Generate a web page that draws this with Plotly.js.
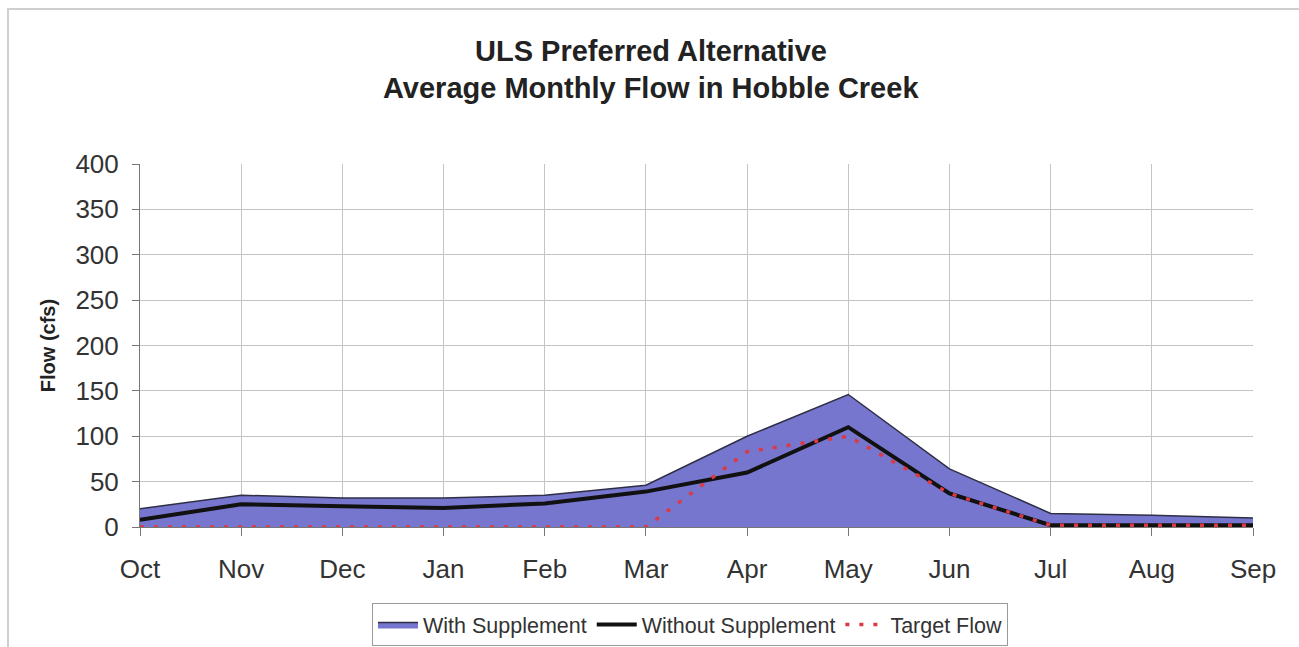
<!DOCTYPE html>
<html>
<head>
<meta charset="utf-8">
<script src="https://cdn.plot.ly/plotly-3.0.1.min.js"></script>
<style>
  html, body { margin: 0; padding: 0; background: #ffffff; }
  #chart { width: 1299px; height: 647px; }
</style>
</head>
<body>
<div id="chart"></div>
<script>
// Average monthly flow in Hobble Creek (cfs), water year Oct–Sep
const months = ["Oct", "Nov", "Dec", "Jan", "Feb", "Mar", "Apr", "May", "Jun", "Jul", "Aug", "Sep"];
const withSupplement    = [20, 35, 32, 32, 35, 46, 100, 146, 64, 15, 13, 10];
const withoutSupplement = [8, 25, 23, 21, 26, 39, 60, 110, 37, 2, 2, 2];
const targetFlow        = [0, 0, 0, 0, 0, 0, 83, 100, 37, 2, 2, 2];
const yTicks = [0, 50, 100, 150, 200, 250, 300, 350, 400];

const fontFamily = "Liberation Sans, Arial, sans-serif";

const traces = [
  {
    name: "With Supplement",
    x: months,
    y: withSupplement,
    type: "scatter",
    mode: "lines",
    fill: "tozeroy",
    fillcolor: "#7676cf",
    line: { color: "#2e2e45", width: 1.5 }
  },
  {
    name: "Without Supplement",
    x: months,
    y: withoutSupplement,
    type: "scatter",
    mode: "lines",
    line: { color: "#111111", width: 4 }
  },
  {
    name: "Target Flow",
    x: months,
    y: targetFlow,
    type: "scatter",
    mode: "lines",
    line: { color: "#dc3a42", width: 3.5, dash: "4px,10px" }
  }
];

const layout = {
  width: 1299,
  height: 647,
  paper_bgcolor: "#ffffff",
  plot_bgcolor: "#ffffff",
  margin: { l: 140, r: 46, t: 164, b: 120 },
  font: { family: fontFamily, color: "#222222" },
  showlegend: true,
  title: {
    text: "<b>ULS Preferred Alternative</b>",
    font: { family: fontFamily, size: 29, color: "#222222" },
    x: 651 / 1299,
    xanchor: "center",
    xref: "container",
    yref: "container",
    y: 1 - 51 / 647,
    yanchor: "middle"
  },
  annotations: [
    {
      text: "<b>Average Monthly Flow in Hobble Creek</b>",
      font: { family: fontFamily, size: 29, color: "#222222" },
      xref: "paper", yref: "paper",
      x: (651 - 140) / 1113, y: (527 - 88) / 363,
      xanchor: "center", yanchor: "middle",
      showarrow: false
    }
  ],
  xaxis: {
    type: "category",
    range: [0, months.length - 1],
    showgrid: true,
    gridcolor: "#c4c4c4",
    gridwidth: 1,
    showline: true,
    linecolor: "#777777",
    linewidth: 1,
    ticks: "outside",
    ticklen: 8,
    tickcolor: "#777777",
    ticklabelstandoff: 11,
    tickfont: { family: fontFamily, size: 26, color: "#333333" },
    zeroline: false
  },
  yaxis: {
    range: [0, 400],
    tickvals: yTicks,
    ticktext: yTicks.map(String),
    showgrid: true,
    gridcolor: "#c4c4c4",
    gridwidth: 1,
    showline: true,
    linecolor: "#777777",
    linewidth: 1,
    ticks: "outside",
    ticklen: 7,
    tickcolor: "#777777",
    ticklabelstandoff: 8,
    tickfont: { family: fontFamily, size: 26, color: "#333333" },
    zeroline: false,
    title: {
      text: "<b>Flow (cfs)</b>",
      font: { family: fontFamily, size: 20, color: "#222222" },
      standoff: 14
    }
  },
  legend: {
    orientation: "h",
    x: (690 - 140) / 1113, xanchor: "center", xref: "paper",
    y: 1 - 603 / 647, yanchor: "top", yref: "container",
    bordercolor: "#9a9a9a",
    borderwidth: 1,
    bgcolor: "#ffffff",
    font: { family: fontFamily, size: 21.5, color: "#333333" },
    itemwidth: 40,
    tracegroupgap: 0
  },
  shapes: [
    {
      type: "rect",
      xref: "paper", yref: "paper",
      x0: (8 - 140) / 1113, x1: (1310 - 140) / 1113,
      y0: (527 - 660) / 363, y1: (527 - 9) / 363,
      line: { color: "#cfcfcf", width: 2 },
      fillcolor: "rgba(0,0,0,0)",
      layer: "below"
    }
  ]
};

Plotly.newPlot("chart", traces, layout, { displayModeBar: false, staticPlot: true });
</script>
</body>
</html>
